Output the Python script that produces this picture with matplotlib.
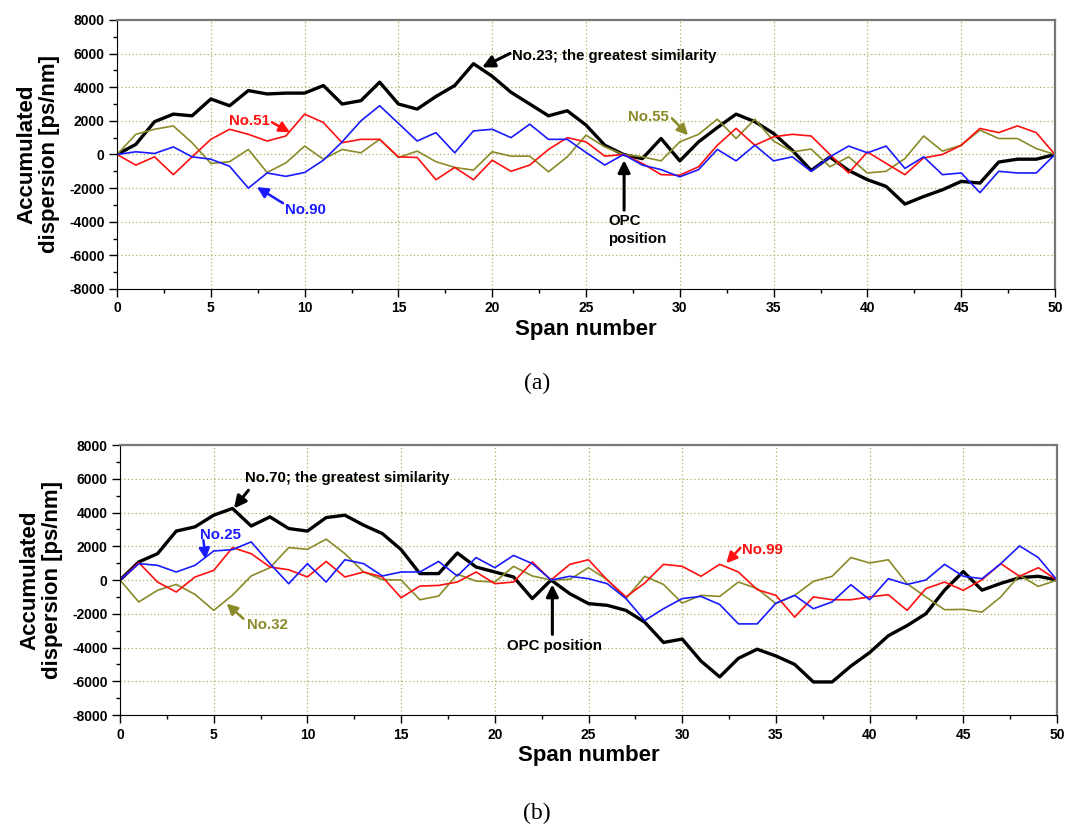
import numpy as np
import matplotlib
matplotlib.use('Agg')
import matplotlib.pyplot as plt
from matplotlib.ticker import MultipleLocator

plt.rcParams['font.family'] = 'Liberation Sans'
plt.rcParams['font.weight'] = 'bold'
plt.rcParams['axes.unicode_minus'] = False

# span index 0..50
span = np.arange(51)

# panel (a): accumulated dispersion per span [ps/nm]
a_no23 = [0, 600, 1950, 2400, 2300, 3300, 2900, 3800, 3600, 3650,
          3650, 4100, 3000, 3200, 4300, 3000, 2700, 3450, 4100, 5400,
          4650, 3700, 3000, 2300, 2600, 1750, 550, 0, -250, 950,
          -380, 750, 1600, 2400, 1950, 1250, 250, -950, -150, -950,
          -1500, -1900, -2950, -2500, -2100, -1600, -1700, -450, -280, -280, 0]
a_no51 = [0, -630, -140, -1200, -140, 900, 1500, 1200, 800, 1100,
          2400, 1900, 700, 900, 900, -140, -180, -1500, -770, -1500,
          -340, -1000, -630, 300, 1000, 750, -100, 0, -530, -1200,
          -1230, -730, 550, 1550, 550, 1050, 1200, 1100, 0, -1100,
          150, -530, -1200, -200, 0, 550, 1550, 1300, 1700, 1300, 0]
a_no90 = [0, 160, 60, 450, -140, -280, -700, -2000, -1100, -1300,
          -1070, -340, 750, 2000, 2900, 1850, 800, 1300, 100, 1400,
          1500, 1000, 1800, 900, 900, 120, -630, 0, -630, -900,
          -1330, -900, 300, -380, 550, -380, -140, -1000, -140, 500,
          100, 500, -830, -140, -1200, -1100, -2270, -1000, -1100, -1100, 0]
a_no55 = [0, 1200, 1500, 1700, 700, -530, -430, 300, -1070, -500,
          500, -280, 300, 100, 900, -180, 200, -430, -770, -930,
          160, -100, -100, -1030, -140, 1150, 450, 0, -140, -380,
          750, 1200, 2100, 950, 2100, 800, 160, 320, -730, -140,
          -1100, -1000, -240, 1100, 200, 550, 1450, 950, 950, 350, 0]

# panel (b)
b_no70 = [0, 1070, 1560, 2900, 3150, 3840, 4240, 3200, 3740, 3050,
          2900, 3700, 3840, 3250, 2750, 1800, 380, 380, 1600, 770,
          475, 180, -1100, 0, -810, -1400, -1500, -1800, -2500, -3700,
          -3500, -4800, -5740, -4640, -4100, -4500, -5000, -6040, -6040, -5100,
          -4300, -3300, -2700, -2000, -600, 500, -600, -200, 140, 220, 0]
b_no99 = [0, 1030, -120, -710, 180, 570, 1920, 1560, 770, 610,
          180, 1100, 180, 475, 180, -1050, -360, -320, -120, 475,
          -220, -120, 1070, 0, 930, 1200, 0, -1000, -180, 930,
          810, 220, 930, 475, -570, -910, -2200, -1000, -1170, -1170,
          -1000, -870, -1800, -510, -120, -610, 20, 970, 220, 730, 0]
b_no25 = [0, 970, 870, 475, 870, 1720, 1800, 2260, 970, -220,
          970, -120, 1200, 970, 240, 475, 475, 1100, 240, 1330,
          730, 1460, 970, 0, 220, 80, -220, -1100, -2400, -1700,
          -1100, -970, -1450, -2600, -2600, -1370, -910, -1700, -1300, -280,
          -1170, 80, -260, 0, 930, 220, 80, 970, 2020, 1330, 0]
b_no32 = [0, -1300, -610, -260, -850, -1800, -900, 240, 730, 1920,
          1820, 2420, 1560, 475, 20, 0, -1170, -950, 340, -60,
          -120, 810, 240, 0, 40, 730, 20, -1100, 220, -260,
          -1370, -910, -970, -120, -510, -1400, -910, -80, 220, 1330,
          1010, 1200, -220, -1000, -1760, -1740, -1900, -1000, 280, -380, 0]

BLACK = 'black'
RED = '#ff1010'
BLUE = '#1a1aff'
OLIVE = '#8a8a28'


def style_axis(ax):
    ax.set_xlim(0, 50)
    ax.set_ylim(-8000, 8000)
    ax.xaxis.set_major_locator(MultipleLocator(5))
    ax.xaxis.set_minor_locator(MultipleLocator(2.5))
    ax.yaxis.set_major_locator(MultipleLocator(2000))
    ax.yaxis.set_minor_locator(MultipleLocator(1000))
    ax.grid(which='major', linestyle=(0, (1, 2)), color='#b0b060', linewidth=0.9)
    ax.tick_params(which='major', direction='out', length=6, width=1, labelsize=10, pad=3)
    ax.tick_params(which='minor', direction='out', length=3, width=1)
    for side in ('top', 'right'):
        ax.spines[side].set_color('#777777')
        ax.spines[side].set_linewidth(1.6)
    ax.set_xlabel('Span number', fontsize=16, fontweight='bold')
    ax.set_ylabel('Accumulated\ndispersion [ps/nm]', fontsize=16, fontweight='bold', linespacing=1.1)
    ax.yaxis.set_label_coords(-0.061, 0.5)
    ax.xaxis.set_label_coords(0.5, -0.111)


def arrow(ax, tail, tip, color, lw=1.8, size=16):
    ax.annotate('', xy=tip, xytext=tail,
                arrowprops=dict(arrowstyle='-|>', color=color, lw=lw,
                                mutation_scale=size, shrinkA=0, shrinkB=0))


fig = plt.figure(figsize=(10.65, 8.25), dpi=100)

# ---- panel (a)
ax1 = fig.add_axes([0.1099, 0.6497, 0.8807, 0.3261])
style_axis(ax1)
ax1.plot(span, a_no23, color=BLACK, lw=2.4)
ax1.plot(span, a_no55, color=OLIVE, lw=1.2)
ax1.plot(span, a_no51, color=RED, lw=1.2)
ax1.plot(span, a_no90, color=BLUE, lw=1.2)

ax1.text(21.04, 5640, 'No.23; the greatest similarity', fontsize=10.8, color=BLACK, va='baseline')
arrow(ax1, (20.95, 6010), (19.46, 5180), BLACK, lw=2.2, size=18)
ax1.text(5.98, 1740, 'No.51', fontsize=10.8, color=RED, va='baseline')
arrow(ax1, (8.26, 1910), (9.22, 1320), RED, lw=1.8)
ax1.text(8.96, -3540, 'No.90', fontsize=10.8, color=BLUE, va='baseline')
arrow(ax1, (8.85, -2900), (7.46, -1940), BLUE, lw=1.8)
ax1.text(27.26, 1980, 'No.55', fontsize=10.8, color=OLIVE, va='baseline')
arrow(ax1, (29.58, 2150), (30.44, 1145), OLIVE, lw=1.8)
ax1.text(26.19, -3550, 'OPC\nposition', fontsize=10.8, color=BLACK, va='top', ha='left', linespacing=1.35)
arrow(ax1, (27.03, -3310), (27.03, -340), BLACK, lw=2.2, size=18)

# ---- panel (b)
ax2 = fig.add_axes([0.1127, 0.1333, 0.8798, 0.3273])
style_axis(ax2)
ax2.plot(span, b_no70, color=BLACK, lw=2.4)
ax2.plot(span, b_no32, color=OLIVE, lw=1.2)
ax2.plot(span, b_no99, color=RED, lw=1.2)
ax2.plot(span, b_no25, color=BLUE, lw=1.2)

ax2.text(6.67, 5820, 'No.70; the greatest similarity', fontsize=10.8, color=BLACK, va='baseline')
arrow(ax2, (6.85, 5320), (6.08, 4240), BLACK, lw=2.2, size=18)
ax2.text(4.27, 2460, 'No.25', fontsize=10.8, color=BLUE, va='baseline')
arrow(ax2, (4.45, 2360), (4.57, 1230), BLUE, lw=1.8)
ax2.text(6.76, -2890, 'No.32', fontsize=10.8, color=OLIVE, va='baseline')
arrow(ax2, (6.58, -2290), (5.69, -1400), OLIVE, lw=1.8)
ax2.text(33.19, 1560, 'No.99', fontsize=10.8, color=RED, va='baseline')
arrow(ax2, (33.1, 1900), (32.35, 1000), RED, lw=1.8)
ax2.text(23.2, -4170, 'OPC position', fontsize=10.8, color=BLACK, va='baseline', ha='center')
arrow(ax2, (23.07, -3220), (23.07, -260), BLACK, lw=2.2, size=18)

# captions
fig.text(537 / 1065, 1 - 383 / 825, '(a)', ha='center', va='center', fontsize=17,
         family='Liberation Serif', fontweight='normal')
fig.text(537 / 1065, 1 - 813 / 825, '(b)', ha='center', va='center', fontsize=17,
         family='Liberation Serif', fontweight='normal')

fig.savefig('out.png', dpi=100)
